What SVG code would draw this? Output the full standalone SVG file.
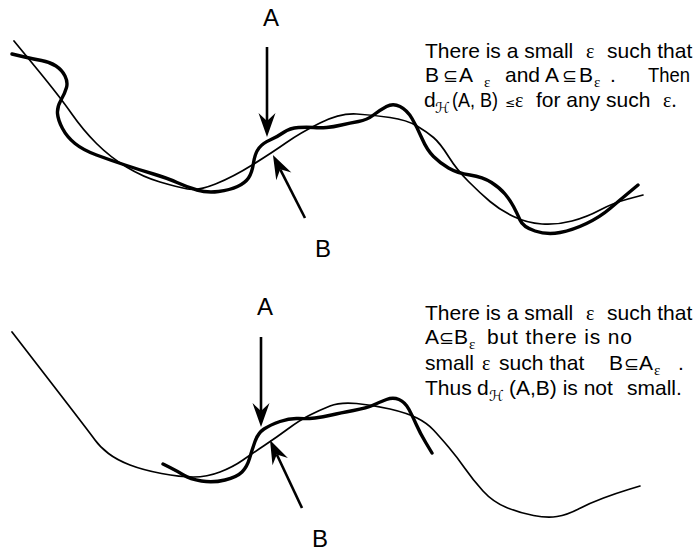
<svg xmlns="http://www.w3.org/2000/svg" width="696" height="554" viewBox="0 0 696 554">
<style>
.thin{fill:none;stroke:#000;stroke-width:1.7;stroke-linecap:round;stroke-linejoin:round}
.thick{fill:none;stroke:#000;stroke-width:3.4;stroke-linecap:round;stroke-linejoin:round}
.arr{fill:none;stroke:#000;stroke-width:2.6}
.lbl{font-family:"Liberation Sans",Arial,sans-serif;font-size:24px;fill:#000;text-anchor:middle}
.t{font-family:"Liberation Sans",Arial,sans-serif;font-size:21px;fill:#000}
.eps{font-family:"Liberation Serif","Times New Roman",serif;font-size:20px;fill:#000}
.sub{font-family:"Liberation Serif","Times New Roman",serif;font-size:15px;fill:#000}
.sub2{font-family:"DejaVu Serif","DejaVu Sans",serif;font-style:italic;font-size:15px;fill:#000}
.sym{font-family:"DejaVu Sans",sans-serif;font-size:18px;fill:#000}
.le{font-family:"DejaVu Sans",sans-serif;font-size:12px;fill:#000}
</style>
<defs>
<marker id="ah" viewBox="-26 -10 30 20" refX="-16" refY="0" markerWidth="30" markerHeight="20" markerUnits="userSpaceOnUse" orient="auto">
<path d="M0,0 L-24,-8.5 L-16,0 L-24,8.5 Z" fill="#000"/>
</marker>
</defs>

<g id="top-panel">
<g id="top-curve-thin">
<path class="thin" d="M14,41 L37,69 Q60,97 71.5,113.5 Q83,130 96.5,143.5 Q110,157 126.5,167 Q143,177 160,182 Q177,187 187.5,189 Q198,191 215.5,184 Q233,177 253,164.5 Q273,152 286.5,142.5 Q300,133 320,123 Q340,113 356.5,114 Q373,115 390,117.5 Q407,120 417,126 Q427,132 433.5,137.5 Q440,143 448.5,156.5 Q457,170 468.5,181.5 Q480,193 490,201.5 Q500,210 513.5,216.5 Q527,223 542,224 Q557,225 572,221 Q587,217 600,210 Q613,203 628,199 L643,195"/>
</g>
<g id="top-curve-thick">
<path class="thick" d="M12,54 L22.5,56.5 Q33,59 41.5,60.5 Q50,62 56,66 Q62,70 65,76 Q68,82 66.5,87.5 Q65,93 61,100 Q57,107 57.5,113.5 Q58,120 62.5,128.5 Q67,137 75,143.5 Q83,150 96.5,155 Q110,160 125,165 Q140,170 153.5,174 Q167,178 177,182.5 Q187,187 197,190 Q207,193 218.5,191.5 Q230,190 237.5,186.5 Q245,183 248.5,178 Q252,173 253.5,163 Q255,153 259,148 Q263,143 270,140 Q277,137 283.5,132.5 Q290,128 298.5,127.5 Q307,127 313.5,127.5 Q320,128 326.5,127.5 Q333,127 341.5,125 Q350,123 358.5,121.5 Q367,120 373.5,115 Q380,110 386.5,106.5 Q393,103 400,106.5 Q407,110 412,118.5 Q417,127 422,138.5 Q427,150 433.5,156.5 Q440,163 448.5,168 Q457,173 470,175 Q483,177 491.5,182.5 Q500,188 505,194 Q510,200 513.5,206.5 Q517,213 520,220 Q523,227 535,231 Q547,235 560,232.5 Q573,230 586.5,223.5 Q600,217 610,208.5 Q620,200 629,192.5 L638,185"/>
</g>
<g id="top-label-A"><text class="lbl" x="271" y="26">A</text></g>
<g id="top-label-B"><text class="lbl" x="323" y="257">B</text></g>
<g id="top-text">
<text class="t" x="425" y="58">There is a small</text>
<text class="eps" x="586" y="58">ε</text>
<text class="t" x="607" y="58">such that</text>
<text class="t" x="425" y="82">B</text>
<text class="sym" x="443" y="82">⊆</text>
<text class="t" x="459" y="82">A</text>
<text class="sub" x="484" y="87">ε</text>
<text class="t" x="505" y="82">and</text>
<text class="t" x="545" y="82">A</text>
<text class="sym" x="562" y="82">⊆</text>
<text class="t" x="579" y="82">B</text>
<text class="sub" x="594" y="87">ε</text>
<text class="t" x="610" y="82">.</text>
<text class="t" x="648" y="82" textLength="42" lengthAdjust="spacingAndGlyphs">Then</text>
<text class="t" x="424" y="107">d</text>
<text class="sub2" x="435" y="113">ℋ</text>
<text class="t" x="452" y="107" textLength="46" lengthAdjust="spacingAndGlyphs">(A, B)</text>
<text class="le" x="505" y="107">≤</text>
<text class="eps" x="515" y="107">ε</text>
<text class="t" x="536" y="107">for any such</text>
<text class="eps" x="663" y="107">ε.</text>
</g>
</g>

<g id="bottom-panel">
<g id="bottom-curve-thin">
<path class="thin" d="M12,332 L51,382.5 Q90,433 95,440 Q100,447 108.5,453.5 Q117,460 130,465 Q143,470 161.5,473.5 Q180,477 193.5,477 Q207,477 220,472 Q233,467 243,460 Q253,453 265,445 Q277,437 288.5,428.5 Q300,420 310,415 Q320,410 330,406 Q340,402 356.5,403.5 Q373,405 390,409 Q407,413 417,418 Q427,423 433.5,430 Q440,437 448.5,447 Q457,457 465,468.5 Q473,480 483,491 Q493,502 506.5,507.5 Q520,513 533.5,515.5 Q547,518 557,516.5 Q567,515 578.5,509 Q590,503 603.5,498 Q617,493 628.5,489.5 L640,486"/>
</g>
<g id="bottom-curve-thick">
<path class="thick" d="M163,464 L170,467.5 Q177,471 183.5,475 Q190,479 201.5,481 Q213,483 225,480 Q237,477 242,472 Q247,467 249.5,458.5 Q252,450 255,441.5 Q258,433 264,429 Q270,425 280,421.5 Q290,418 298.5,418.5 Q307,419 315,418 Q323,417 331.5,415 Q340,413 353.5,410.5 Q367,408 373.5,405 Q380,402 386.5,399.5 Q393,397 399,399.5 Q405,402 409,409.5 Q413,417 416.5,425 Q420,433 426,443 L432,453"/>
</g>
<g id="bottom-label-A"><text class="lbl" x="265" y="315">A</text></g>
<g id="bottom-label-B"><text class="lbl" x="320" y="547">B</text></g>
<g id="bottom-text">
<text class="t" x="425" y="320">There is a small</text>
<text class="eps" x="586" y="320">ε</text>
<text class="t" x="607" y="320">such that</text>
<text class="t" x="425" y="344">A</text>
<text class="sym" x="439" y="344">⊆</text>
<text class="t" x="454" y="344">B</text>
<text class="sub" x="469" y="349">ε</text>
<text class="t" x="487" y="344" textLength="145" lengthAdjust="spacing">but there is no</text>
<text class="t" x="425" y="370">small</text>
<text class="eps" x="482" y="370">ε</text>
<text class="t" x="499" y="370">such that</text>
<text class="t" x="609" y="370">B</text>
<text class="sym" x="624" y="370">⊆</text>
<text class="t" x="639" y="370">A</text>
<text class="sub" x="654" y="375">ε</text>
<text class="t" x="678" y="370">.</text>
<text class="t" x="425" y="395">Thus</text>
<text class="t" x="477" y="395">d</text>
<text class="sub2" x="489" y="401">ℋ</text>
<text class="t" x="509" y="395">(A,B) is not</text>
<text class="t" x="627" y="395">small.</text>
</g>
</g>

<g id="connectors">
<line class="arr" x1="267" y1="47" x2="267" y2="121" marker-end="url(#ah)"/>
<line class="arr" x1="305" y1="218" x2="280.2" y2="169.3" marker-end="url(#ah)"/>
<line class="arr" x1="261" y1="337" x2="261" y2="411" marker-end="url(#ah)"/>
<line class="arr" x1="302" y1="508" x2="276.8" y2="454.5" marker-end="url(#ah)"/>
</g>
</svg>
